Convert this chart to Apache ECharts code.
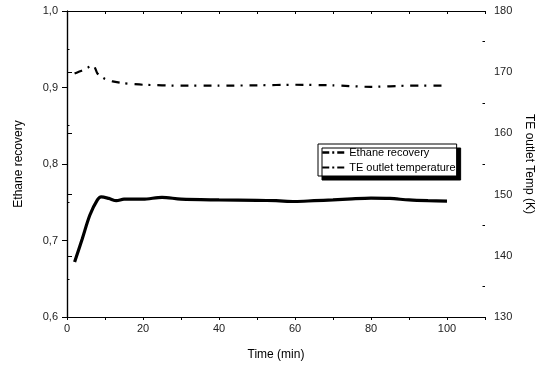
<!DOCTYPE html>
<html>
<head>
<meta charset="utf-8">
<script src="https://cdn.jsdelivr.net/npm/echarts@6/dist/echarts.min.js"></script>
<style>html,body{margin:0;padding:0;background:#fff}#c{width:553px;height:368px}</style>
</head>
<body>
<div id="c"></div>
<script>
var timeEthane = [2, 4, 6, 8, 9, 11, 13, 15, 20, 25, 30, 40, 50, 55, 60, 65, 70, 75, 80, 85, 90, 95, 100];
var ethaneRecovery = [0.672, 0.702, 0.733, 0.753, 0.757, 0.755, 0.752, 0.754, 0.754, 0.7565, 0.754, 0.753, 0.7525, 0.752, 0.751, 0.752, 0.753, 0.7545, 0.7555, 0.755, 0.753, 0.752, 0.7515];
var timeTemp = [2, 4, 6, 7, 8, 10, 12, 15, 20, 30, 40, 50, 60, 70, 80, 90, 100];
var teOutletTemp = [169.8, 170.3, 170.9, 171.1, 169.8, 168.9, 168.5, 168.2, 167.95, 167.8, 167.8, 167.85, 167.95, 167.85, 167.6, 167.8, 167.8];
var seriesNames = ['Ethane recovery', 'TE outlet temperature'];

function pairs(xs, ys) { return xs.map(function (x, i) { return [x, ys[i]]; }); }

var font = 'Arial, "Liberation Sans", sans-serif';
var chart = echarts.init(document.getElementById('c'), null, {renderer: 'canvas'});
var axisLine = {show: true, lineStyle: {color: '#000', width: 1.2}};
chart.setOption({
  animation: false,
  backgroundColor: '#fff',
  grid: {left: 67, right: 68, top: 11, bottom: 51, containLabel: false},
  legend: {
    orient: 'vertical', left: 318, top: 144,
    padding: [3, 1, 3, 3], itemGap: 4, itemWidth: 22, itemHeight: 12,
    backgroundColor: '#fff', borderColor: '#000', borderWidth: 1, borderRadius: 0,
    shadowColor: '#000', shadowBlur: 0, shadowOffsetX: 4, shadowOffsetY: 4,
    textStyle: {fontFamily: font, fontSize: 11, color: '#000'},
    data: [
      {name: seriesNames[0], itemStyle: {opacity: 0}, lineStyle: {type: [7, 3, 2, 3], width: 2.5, color: '#000'}},
      {name: seriesNames[1], itemStyle: {opacity: 0}, lineStyle: {type: [7, 3, 2, 3], width: 2, color: '#000'}}
    ]
  },
  xAxis: [{
    type: 'value', min: 0, max: 110, interval: 20, position: 'bottom',
    name: 'Time (min)', nameLocation: 'middle', nameGap: 32,
    nameTextStyle: {fontFamily: font, fontSize: 12, color: '#000'},
    axisLine: axisLine,
    axisTick: {show: true, length: 3, lineStyle: {color: '#000'}},
    minorTick: {show: true, splitNumber: 2, length: 3, lineStyle: {color: '#000'}},
    axisLabel: {fontFamily: font, fontSize: 11, color: '#222', margin: 6,
      formatter: function (v) { return v > 100 ? '' : String(v); }},
    splitLine: {show: false}
  }, {
    type: 'value', min: 0, max: 110, interval: 20, position: 'top',
    axisLine: axisLine,
    axisTick: {show: true, inside: true, length: 3, lineStyle: {color: '#000'}},
    minorTick: {show: true, splitNumber: 2, length: 3, lineStyle: {color: '#000'}},
    axisLabel: {show: false}, splitLine: {show: false}
  }],
  yAxis: [{
    type: 'value', min: 0.6, max: 1.0, interval: 0.1, position: 'left',
    name: 'Ethane recovery', nameLocation: 'middle', nameGap: 42,
    nameTextStyle: {fontFamily: font, fontSize: 12, color: '#000'},
    axisLine: axisLine,
    axisTick: {show: true, length: 5, lineStyle: {color: '#000'}},
    axisLabel: {fontFamily: font, fontSize: 11, color: '#222', margin: 9,
      formatter: function (v) { return v.toFixed(1).replace('.', ','); }},
    splitLine: {show: false}
  }, {
    type: 'value', min: 130, max: 180, interval: 10, position: 'right',
    name: 'TE outlet Temp (K)', nameLocation: 'middle', nameGap: 38, nameRotate: -90,
    nameTextStyle: {fontFamily: font, fontSize: 12, color: '#000'},
    axisLine: axisLine,
    axisTick: {show: true, length: 5, lineStyle: {color: '#000'}},
    axisLabel: {fontFamily: font, fontSize: 11, color: '#222', margin: 9},
    splitLine: {show: false}
  }, {
    type: 'value', min: 0.6, max: 1.0, interval: 0.1, position: 'left',
    axisLine: {show: false}, axisTick: {show: false, inside: true},
    minorTick: {show: true, splitNumber: 2, length: 2.5, lineStyle: {color: '#000'}},
    axisLabel: {show: false}, splitLine: {show: false}
  }, {
    type: 'value', min: 130, max: 180, interval: 10, position: 'right',
    axisLine: {show: false}, axisTick: {show: false, inside: true},
    minorTick: {show: true, splitNumber: 2, length: 2.5, lineStyle: {color: '#000'}},
    axisLabel: {show: false}, splitLine: {show: false}
  }],
  series: [{
    name: seriesNames[0], type: 'line', xAxisIndex: 0, yAxisIndex: 0,
    data: pairs(timeEthane, ethaneRecovery), smooth: 0.3, symbol: 'none',
    lineStyle: {color: '#000', width: 3.2}, itemStyle: {color: '#000'}
  }, {
    name: seriesNames[1], type: 'line', xAxisIndex: 0, yAxisIndex: 1,
    data: pairs(timeTemp, teOutletTemp), smooth: 0.2, symbol: 'none',
    lineStyle: {color: '#000', width: 2.2, type: [8, 6, 2, 7]}, itemStyle: {color: '#000'}
  }]
});
</script>
</body>
</html>
